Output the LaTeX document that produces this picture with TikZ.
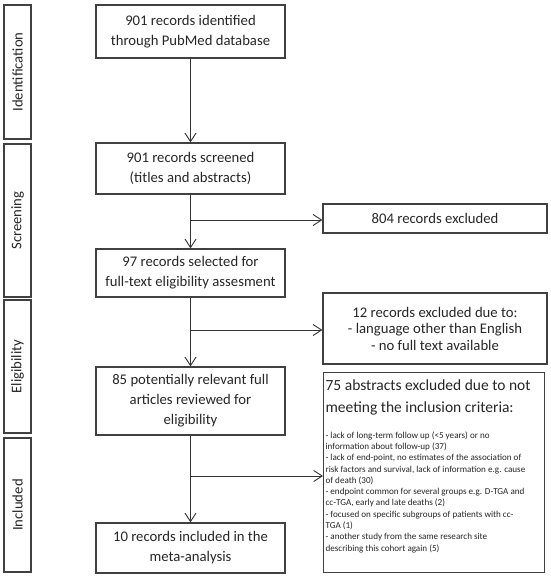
\documentclass[tikz,border=0pt]{standalone}
\usepackage{fontspec}
\setmainfont{Carlito}
\usetikzlibrary{arrows.meta}

\begin{document}
\begin{tikzpicture}[x=1pt, y=-1pt,
    every node/.style={font=\fontsize{14.7}{20}\selectfont, text=black!85},
    stage/.style={draw=black!75, line width=1.2pt, rotate=90, minimum height=27, inner sep=0pt},
    mainbox/.style={draw=black!75, line width=1.2pt, minimum width=189, align=center, inner sep=0pt},
    exbox/.style={draw=black!75, line width=1.2pt, minimum width=224, align=center, inner sep=0pt},
    arr/.style={draw=black!80, line width=0.9pt, -{Straight Barb[length=8.5pt, width=11pt]}}]
    \useasboundingbox (0,0) rectangle (550,577);
    % stages on the left
    \node[stage, minimum width=134] (idf) at (17.5,72) {Identification};
    \node[stage, minimum width=153] (scr) at (17.5,220.5) {Screening};
    \node[stage, minimum width=133] (elg) at (17.5,366.5) {Eligibility};
    \node[stage, minimum width=134] (inc) at (17.5,505) {Included};
    % main column
    \node[mainbox, minimum height=53] (rec) at (190.5,31.5) {901 records identified\\through PubMed database};
    \node[mainbox, minimum height=51] (scrd) at (190.5,168.5) {901 records screened\\(titles and abstracts)};
    \node[mainbox, minimum height=48] (sel) at (190.5,273) {97 records selected for\\full-text eligibility assesment};
    \node[mainbox, minimum height=68] (full) at (190.5,401) {85 potentially relevant full\\articles reviewed for\\eligibility};
    \node[mainbox, minimum height=50] (meta) at (190.5,548) {10 records included in the\\meta-analysis};
    % excluded
    \node[exbox, minimum height=29] (ex1) at (435,218.5) {804 records excluded};
    \node[exbox, minimum height=71, font=\fontsize{14.7}{16.5}\selectfont] (ex2) at (435,328.5)
        {12 records excluded due to:\\- language other than English\\- no full text available};
    \node[exbox, anchor=north west, minimum width=221, minimum height=200, inner xsep=2, inner ysep=7] (ex3) at (323,372)
        {\parbox[t][186pt][t]{217pt}{\raggedright
        {\fontsize{15.5}{22}\selectfont 75 abstracts excluded due to not\\meeting the inclusion criteria:\par}
        \vspace{14.5pt}
        {\fontsize{9.1}{11.3}\selectfont - lack of long-term follow up (<5 years) or no\\
        information about follow-up (37)\\
        - lack of end-point, no estimates of the association of\\
        risk factors and survival, lack of information e.g. cause\\
        of death (30)\\
        - endpoint common for several groups e.g. D-TGA and\\
        cc-TGA, early and late deaths (2)\\
        - focused on specific subgroups of patients with cc-\\
        TGA (1)\\
        - another study from the same research site\\
        describing this cohort again (5)\par}}};
    % connectors
    \draw[arr] (rec) -- (scrd);
    \draw[arr] (scrd) -- (sel);
    \draw[arr] (sel) -- (full);
    \draw[arr] (full) -- (meta);
    \coordinate (b1) at (190.5,220);
    \coordinate (b2) at (190.5,330);
    \coordinate (b3) at (190.5,476);
    \draw[arr] (b1) -- (b1 -| ex1.west);
    \draw[arr] (b2) -- (b2 -| ex2.west);
    \draw[arr] (b3) -- (b3 -| ex3.west);
\end{tikzpicture}
\end{document}
